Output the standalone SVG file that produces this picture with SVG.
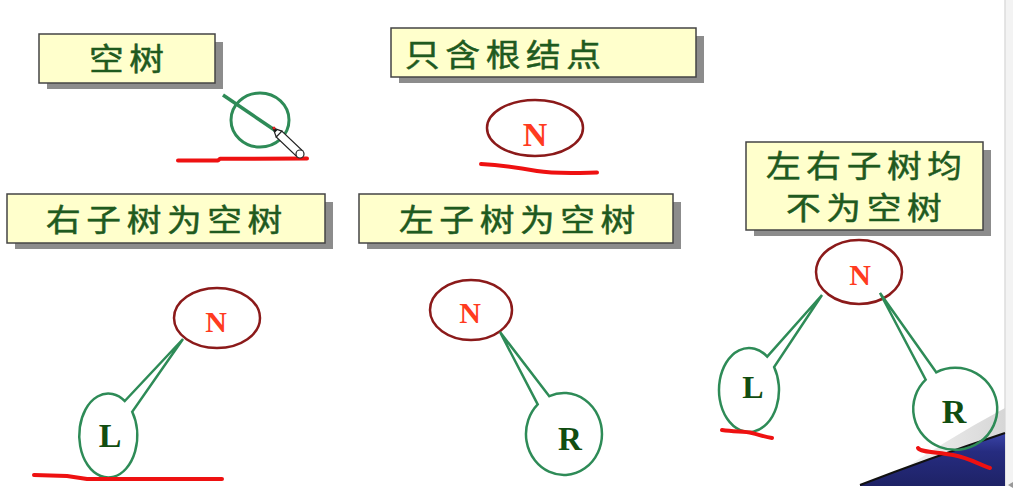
<svg xmlns="http://www.w3.org/2000/svg" width="1013" height="500" viewBox="0 0 1013 500">
<style>
.box{fill:#ffffcc;stroke:#444;stroke-width:1.5}
.shadow{fill:#8c8c8c}
.lbl{font-family:"Noto Sans CJK SC","Noto Sans",sans-serif;font-size:31px;fill:#1f5a1f;stroke:#1f5a1f;stroke-width:0.5;letter-spacing:5px}
.root{fill:none;stroke:#8b1a1a;stroke-width:2.5}
.child{fill:none;stroke:#2e8b57;stroke-width:2.5;stroke-linejoin:miter}
.nt{font-family:"Liberation Serif",serif;font-weight:bold;fill:#ff3b1f;text-anchor:middle}
.ct{font-family:"Liberation Serif",serif;font-weight:bold;fill:#114d11;text-anchor:middle}
.ul{fill:none;stroke:#ee1111;stroke-width:4;stroke-linecap:round;stroke-linejoin:round}
</style>
<defs>
<linearGradient id="fade" x1="0" y1="0" x2="1" y2="0">
<stop offset="0" stop-color="#ffffff"/>
<stop offset="1" stop-color="#d6d6d6"/>
</linearGradient>
<linearGradient id="navy" x1="0" y1="0" x2="0" y2="1">
<stop offset="0" stop-color="#3a44a8"/>
<stop offset="0.35" stop-color="#262c80"/>
<stop offset="1" stop-color="#1e2266"/>
</linearGradient>
</defs>
<rect width="1013" height="500" fill="#ffffff"/>
<rect x="1005" y="0" width="8" height="486" fill="#f3f3f3"/>
<line x1="1005" y1="0" x2="1005" y2="486" stroke="#dcdcdc" stroke-width="1.5"/>
<g id="decoration">
<path d="M 880 485 Q 945 440 1005 408 L 1005 433 Q 930 458 860 485 Z" fill="url(#fade)"/>
<path d="M 860 485 Q 930 458 1005 433 L 1005 486 L 860 486 Z" fill="url(#navy)"/>
<path d="M 860 485 Q 930 458 1005 433" fill="none" stroke="#111" stroke-width="2"/>
<polygon points="1013,482 1008,485 1013,488" fill="#999"/>
</g>
<g id="empty-tree">
<rect class="shadow" x="47" y="42" width="176" height="47"/>
<rect class="box" x="39" y="34" width="176" height="49"/>
<text class="lbl" transform="translate(89,70) scale(1.12,1)">空树</text>
<ellipse cx="260" cy="120" rx="29" ry="27" fill="none" stroke="#2e8b57" stroke-width="3"/>
<line x1="223" y1="95" x2="276" y2="131" stroke="#2e8b57" stroke-width="3.5"/>
<path class="ul" d="M 178 160.5 L 218 160.5 L 220 158.8 L 307 158.5"/>
<g id="pencil">
<polygon points="276.2,136.9 281.8,131.1 302.8,151.1 297.2,156.9" fill="#fff" stroke="#222" stroke-width="1.2"/>
<circle cx="300" cy="154" r="4" fill="#fff" stroke="#222" stroke-width="1.2"/>
<polygon points="273,128 276.2,136.9 281.8,131.1" fill="#fff" stroke="#222" stroke-width="1.2"/>
<polygon points="273,128 275,132.5 277.5,130" fill="#111"/>
<circle cx="274" cy="128" r="1.5" fill="#e02020"/>
</g>
</g>
<g id="root-only">
<rect class="shadow" x="399" y="36" width="305" height="47"/>
<rect class="box" x="391" y="28" width="305" height="49"/>
<text class="lbl" transform="translate(405,66) scale(1.12,1)">只含根结点</text>
<ellipse class="root" cx="535" cy="128" rx="48" ry="28"/>
<text class="nt" x="535" y="146" font-size="34">N</text>
<path class="ul" d="M 481 164 C 500 165 520 168 537 171 C 555 174 575 173 597 172.5"/>
</g>
<g id="right-empty">
<rect class="shadow" x="15" y="202" width="318" height="47"/>
<rect class="box" x="7" y="194" width="318" height="49"/>
<text class="lbl" transform="translate(46,231) scale(1.12,1)">右子树为空树</text>
<g id="re-N">
<ellipse class="root" cx="217" cy="318" rx="43" ry="30"/>
<text class="nt" x="216" y="332" font-size="30">N</text>
</g>
<g id="re-L">
<path class="child" d="M 124.8 401 L 183 339 L 132.2 411.8 A 29 42 0 1 1 124.8 401 Z"/>
<text class="ct" x="110" y="447" font-size="34">L</text>
</g>
<path class="ul" d="M 34 475 L 67 476 L 87 479 L 222 479"/>
</g>
<g id="left-empty">
<rect class="shadow" x="367" y="202" width="314" height="47"/>
<rect class="box" x="359" y="194" width="314" height="49"/>
<text class="lbl" transform="translate(399,231) scale(1.12,1)">左子树为空树</text>
<g id="le-N">
<ellipse class="root" cx="471" cy="310" rx="41" ry="30"/>
<text class="nt" x="470" y="323" font-size="30">N</text>
</g>
<g id="le-R">
<path class="child" d="M 549.3 396.2 L 500 332 L 537.7 404.4 A 38 41 0 1 0 549.3 396.2 Z"/>
<text class="ct" x="570" y="450" font-size="33">R</text>
</g>
</g>
<g id="both">
<rect class="shadow" x="754" y="150" width="237" height="86"/>
<rect class="box" x="746" y="142" width="237" height="88"/>
<text class="lbl" transform="translate(766,177) scale(1.12,1)">左右子树均</text>
<text class="lbl" transform="translate(786,219) scale(1.12,1)">不为空树</text>
<g id="b-N">
<ellipse class="root" cx="859" cy="272" rx="43" ry="32"/>
<text class="nt" x="860" y="285" font-size="30">N</text>
</g>
<g id="b-L">
<path class="child" d="M 767.2 356.6 L 822 295 L 774.1 367 A 30 42 0 1 1 767.2 356.6 Z"/>
<text class="ct" x="753" y="398" font-size="32">L</text>
</g>
<g id="b-R">
<path class="child" d="M 936.2 372.3 L 880 293 L 925.7 379.7 A 42 41 0 1 0 936.2 372.3 Z"/>
<text class="ct" x="954" y="423" font-size="34">R</text>
</g>
<path class="ul" d="M 722 430 C 735 432 745 431 752 433 C 760 435 765 437 772 438"/>
<path class="ul" d="M 918 448 C 920 452 935 452 953 455 C 970 458 980 465 990 468"/>
</g>
</svg>
